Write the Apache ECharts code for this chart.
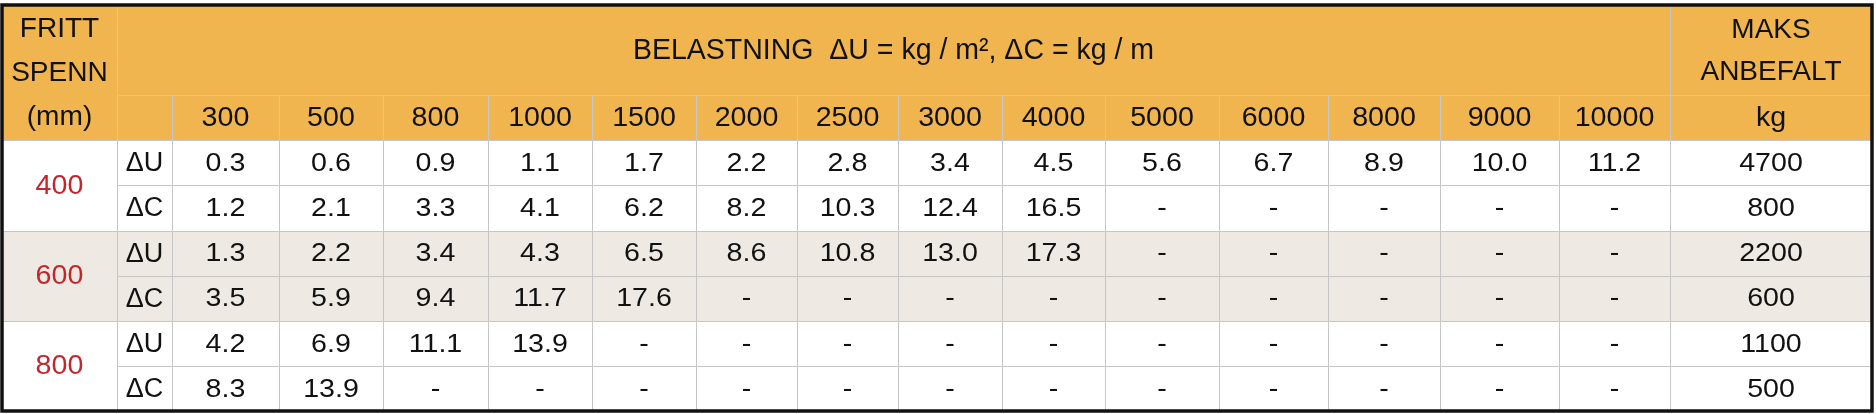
<!DOCTYPE html>
<html><head><meta charset="utf-8">
<script src="https://cdn.jsdelivr.net/npm/echarts@6/dist/echarts.min.js"></script>
<style>html,body{margin:0;padding:0;background:#fff}#c{width:1876px;height:414px}</style>
</head><body><div id="c"></div>
<script>
// ---- data ----
const loads = ['300','500','800','1000','1500','2000','2500','3000','4000','5000','6000','8000','9000','10000'];
const spans = ['400','600','800'];
const kinds = ['ΔU','ΔC'];
const span400U = [0.3,0.6,0.9,1.1,1.7,2.2,2.8,3.4,4.5,5.6,6.7,8.9,10.0,11.2];
const span400C = [1.2,2.1,3.3,4.1,6.2,8.2,10.3,12.4,16.5,null,null,null,null,null];
const span600U = [1.3,2.2,3.4,4.3,6.5,8.6,10.8,13.0,17.3,null,null,null,null,null];
const span600C = [3.5,5.9,9.4,11.7,17.6,null,null,null,null,null,null,null,null,null];
const span800U = [4.2,6.9,11.1,13.9,null,null,null,null,null,null,null,null,null,null];
const span800C = [8.3,13.9,null,null,null,null,null,null,null,null,null,null,null,null];
const maxLoad = [4700,800,2200,600,1100,500];
const titleText = 'BELASTNING  ΔU = kg / m², ΔC = kg / m';
const spanHeader = 'FRITT\nSPENN\n(mm)';
const maxHeader = 'MAKS\nANBEFALT';
const maxUnit = 'kg';

// ---- layout (sizes/styles) ----
const COL_W = [115,55,107,104,105,104,104,101,101,104,103,114,109,112,119,111,202];
const COL_X = [0]; COL_W.forEach((w,i)=>COL_X.push(COL_X[i]+w));
const TOTAL_W = COL_X[COL_X.length-1];
const ORANGE = '#F0B54E', BEIGE = '#EEEAE3', WHITE = '#FFFFFF';
const GROUP_FILL = [WHITE, BEIGE, WHITE];
const RED = '#C1272D', INK = '#111111';
const FONT = "'Liberation Sans', Arial, sans-serif";

const rows = [span400U, span400C, span600U, span600C, span800U, span800C];
const cells = [];
function cell(c0, c1, r0, r1, text, fill, opts) {
  cells.push(Object.assign({x0: COL_X[c0], x1: COL_X[c1], y0: r0, y1: r1, text: text, fill: fill,
    color: INK, size: 26, sx: 1.1, lh: 30}, opts || {}));
}
// header
cell(0, 1, 0, 3, spanHeader, ORANGE, {size: 27, sx: 1.04, lh: 44});
cell(1, 16, 0, 2, titleText, ORANGE, {size: 30, sx: 0.95});
cell(16, 17, 0, 2, maxHeader, ORANGE, {size: 28, sx: 1.0, lh: 42});
cell(1, 2, 2, 3, '', ORANGE);
loads.forEach((l, i) => cell(2 + i, 3 + i, 2, 3, l, ORANGE, {size: 27, sx: 1.06}));
cell(16, 17, 2, 3, maxUnit, ORANGE, {size: 27, sx: 1.06});
// body
spans.forEach((s, g) => {
  cell(0, 1, 3 + 2*g, 5 + 2*g, s, GROUP_FILL[g], {color: RED, size: 27, sx: 1.06});
  kinds.forEach((k, j) => {
    const r = 3 + 2*g + j;
    const vals = rows[2*g + j];
    cell(1, 2, r, r + 1, k, GROUP_FILL[g], {size: 27, sx: 1.0});
    vals.forEach((v, i) => cell(2 + i, 3 + i, r, r + 1, v == null ? '-' : v.toFixed(1), GROUP_FILL[g]));
    cell(16, 17, r, r + 1, String(maxLoad[2*g + j]), GROUP_FILL[g]);
  });
});

const chart = echarts.init(document.getElementById('c'));
chart.setOption({
  animation: false,
  grid: {left: 2, right: 4, top: 5, bottom: 3},
  xAxis: {type: 'value', min: 0, max: TOTAL_W, show: false},
  yAxis: {type: 'value', min: 0, max: 9, inverse: true, show: false},
  series: [{
    type: 'custom',
    coordinateSystem: 'cartesian2d',
    data: cells.map(c => [c.x0, c.x1, c.y0, c.y1]),
    renderItem: function (params, api) {
      const c = cells[params.dataIndex];
      const p0 = api.coord([api.value(0), api.value(2)]);
      const p1 = api.coord([api.value(1), api.value(3)]);
      const x = Math.round(p0[0]) + 0.5, y = Math.round(p0[1]) + 0.5;
      const w = Math.round(p1[0]) - Math.round(p0[0]), h = Math.round(p1[1]) - Math.round(p0[1]);
      return {
        type: 'group',
        children: [
          {type: 'rect', shape: {x: x, y: y, width: w, height: h},
           style: {fill: c.fill, stroke: '#C6C6C6', lineWidth: 1}},
          {type: 'text', x: (p0[0] + p1[0]) / 2, y: (p0[1] + p1[1]) / 2 + 1, scaleX: c.sx,
           style: {text: c.text, x: 0, y: 0, align: 'center', verticalAlign: 'middle',
             fill: c.color, fontSize: c.size, fontFamily: FONT, lineHeight: c.lh}}
        ]
      };
    }
  }, {
    type: 'custom',
    coordinateSystem: 'cartesian2d',
    data: [[0, TOTAL_W, 0, 9]],
    z: 10,
    renderItem: function (params, api) {
      const p0 = api.coord([api.value(0), api.value(2)]);
      const p1 = api.coord([api.value(1), api.value(3)]);
      return {type: 'rect', shape: {x: p0[0], y: p0[1], width: p1[0] - p0[0], height: p1[1] - p0[1]},
        style: {fill: 'none', stroke: '#111', lineWidth: 3.5}};
    }
  }]
});
</script></body></html>
